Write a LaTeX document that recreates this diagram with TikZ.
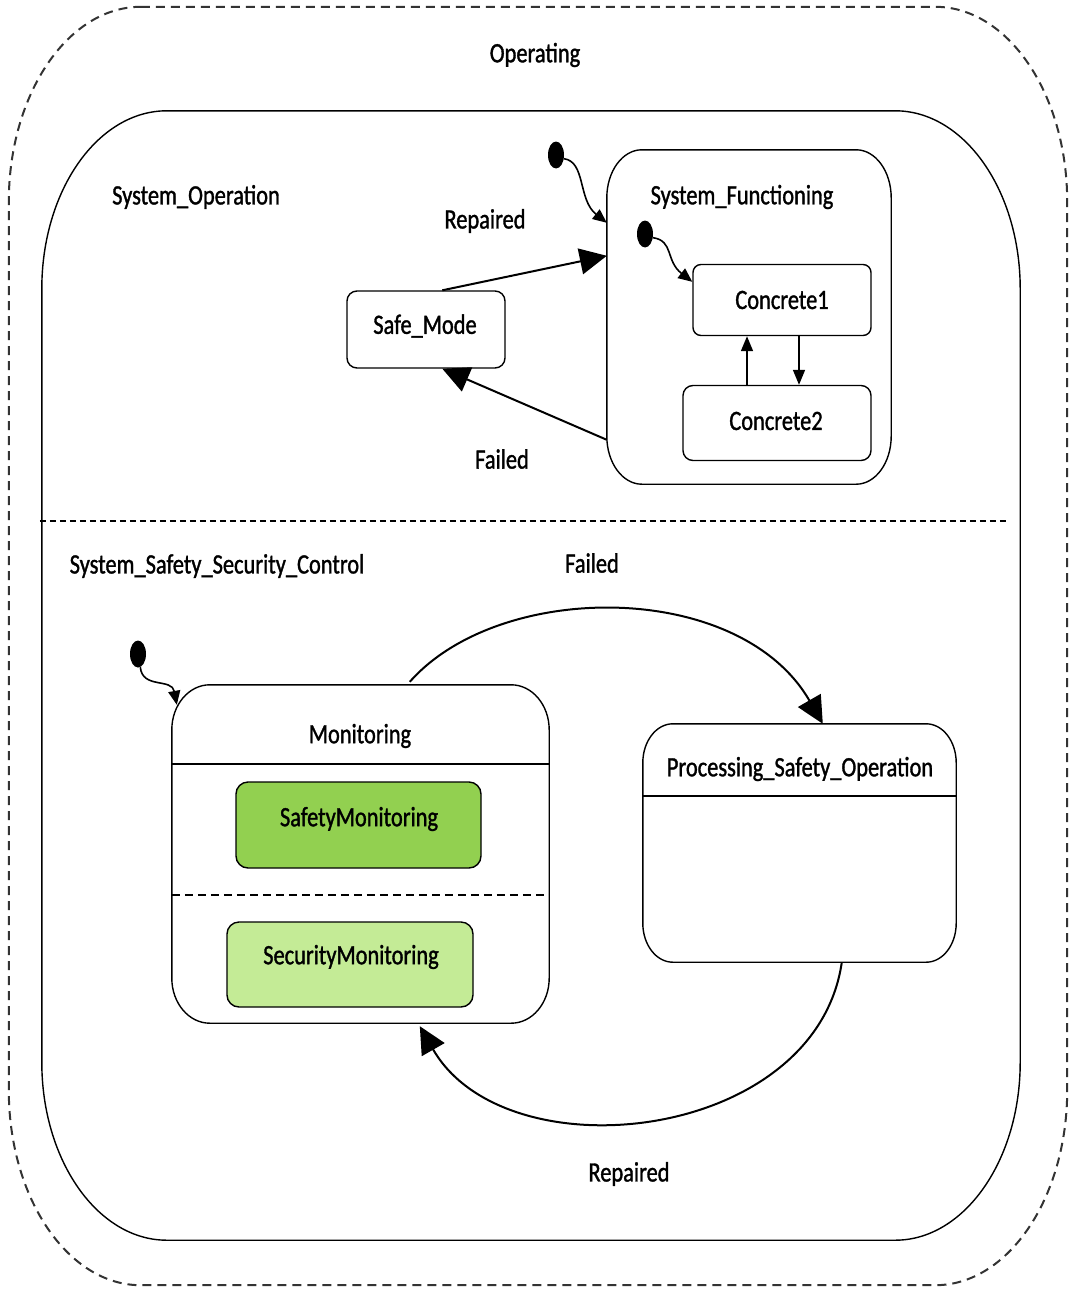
\documentclass[tikz,border=0pt]{standalone}
\usepackage{fontspec}
\setmainfont{Carlito}[FakeStretch=0.8,FakeBold=1.2]
\usetikzlibrary{arrows.meta,shapes.geometric,calc}

% rounded frame with elliptical corners around a node: #2 node, #3 rx, #4 ry
\newcommand\ovalrim[4][]{%
  \draw[#1] ($(#2.north west)+(#3,0)$) -- ($(#2.north east)+(-#3,0)$)
    .. controls ($(#2.north east)+(-0.448*#3,0)$) and ($(#2.north east)+(0,0.448*#4)$) .. ($(#2.north east)+(0,#4)$)
    -- ($(#2.south east)+(0,-#4)$)
    .. controls ($(#2.south east)+(0,-0.448*#4)$) and ($(#2.south east)+(-0.448*#3,0)$) .. ($(#2.south east)+(-#3,0)$)
    -- ($(#2.south west)+(#3,0)$)
    .. controls ($(#2.south west)+(0.448*#3,0)$) and ($(#2.south west)+(0,-0.448*#4)$) .. ($(#2.south west)+(0,-#4)$)
    -- ($(#2.north west)+(0,#4)$)
    .. controls ($(#2.north west)+(0,0.448*#4)$) and ($(#2.north west)+(0.448*#3,0)$) .. ($(#2.north west)+(#3,0)$)
    -- cycle;}

\definecolor{safetygreen}{RGB}{146,208,80}
\definecolor{securitygreen}{RGB}{196,235,150}

\tikzset{
  lbl/.style={font=\fontsize{28}{30}\selectfont, inner sep=0pt},
  region/.style={draw=none, inner sep=0pt},
  simplestate/.style={draw, line width=1.4pt, rounded corners=10pt, inner sep=0pt,
    font=\fontsize{28}{30}\selectfont},
  rim/.style={line width=1.4pt},
  initdot/.style={ellipse, fill=black, draw=none, minimum width=16pt, minimum height=27pt, inner sep=0pt},
  bigarr/.style={line width=2pt, -{Triangle[length=27pt,width=26pt]}},
  smallarr/.style={line width=1.6pt, -{Triangle[length=15pt,width=12pt]}},
  initarr/.style={line width=1.6pt, -{Triangle[length=14pt,width=12pt]}},
}

\begin{document}
\begin{tikzpicture}[x=1pt,y=-1pt]
\useasboundingbox (0,0) rectangle (1071,1290);

% composite regions
\node[region, minimum width=1058pt, minimum height=1278pt] (operating) at (538,646) {};
\ovalrim[line width=2pt, dash pattern=on 9pt off 6pt, draw=black!80]{operating}{132}{195}
\node[region, minimum width=978pt, minimum height=1129pt] (sysctl) at (531,675.5) {};
\ovalrim[rim]{sysctl}{125}{178}
\draw[line width=1.4pt, dash pattern=on 6pt off 4pt] ($(sysctl.west)+(-2,-154.5)$) coordinate (divL) -- ($(sysctl.east)+(-12,-154.5)$) coordinate (divR);

\node[lbl] (tOperating) at (535,55) {Operating};
\node[lbl] (tSysOp) at (196,197) {System\_Operation};
\node[lbl] (tSSSC) at (217,566) {System\_Safety\_Security\_Control};

% upper region
\node[region, minimum width=284pt, minimum height=334pt] (sf) at (749,317) {};
\ovalrim[rim]{sf}{35}{48}
\node[lbl] (tSF) at (742,197) {System\_Functioning};

\node[simplestate, minimum width=158pt, minimum height=77pt] (sm) at (426,329.5) {};
\node[lbl] (tSM) at (425,326) {Safe\_Mode};
\node[simplestate, rounded corners=8pt, minimum width=178pt, minimum height=71pt] (c1) at (782,300) {};
\node[lbl] (tC1) at (782,300) {Concrete1};
\node[simplestate, minimum width=188pt, minimum height=75pt] (c2) at (777,423) {};
\node[lbl] (tC2) at (776,421) {Concrete2};

\node[initdot] (i1) at (556,155) {};
\node[initdot] (i2) at (645,234) {};

\draw[initarr] (i1.-25) .. controls +(22,3) and +(-29,-23) .. ($(sf.north west)+(0,73)$);
\draw[initarr] (i2.-25) .. controls +(21,3) and +(-27,-21) .. ($(c1.north west)+(0,18)$);

\coordinate (upx) at (747,0);
\coordinate (dnx) at (799,0);
\draw[smallarr] (c2.north -| upx) -- (c1.south -| upx);
\draw[smallarr] (c1.south -| dnx) -- (c2.north -| dnx);

\draw[bigarr] ($(sm.north west)+(96,0)$) -- ($(sf.north west)+(0,106)$);
\draw[bigarr] ($(sf.north west)+(0,290)$) -- ($(sm.south west)+(96,0)$);
\node[lbl] (tRep1) at (485,221) {Repaired};
\node[lbl] (tFail1) at (502,459) {Failed};

% lower region
\node[region, minimum width=377pt, minimum height=338pt] (mon) at (360.5,854) {};
\ovalrim[rim]{mon}{38}{45}
\draw[line width=1.4pt] ($(mon.north west)+(0,79)$) -- ($(mon.north east)+(0,79)$);
\draw[line width=1.4pt, dash pattern=on 8pt off 5pt] ($(mon.north west)+(0,210)$) -- ($(mon.north east)+(0,210)$);
\node[lbl] (tMon) at (360,736) {Monitoring};

\node[simplestate, rounded corners=12pt, fill=safetygreen, minimum width=245pt, minimum height=86pt] (safmon) at (358.5,825) {};
\node[lbl] (tSafMon) at (359,819) {SafetyMonitoring};
\node[simplestate, rounded corners=12pt, fill=securitygreen, minimum width=246pt, minimum height=85pt] (secmon) at (350,964.5) {};
\node[lbl] (tSecMon) at (351,957) {SecurityMonitoring};

\node[region, minimum width=313pt, minimum height=238pt] (pso) at (799.5,843) {};
\ovalrim[rim]{pso}{30}{39}
\draw[line width=1.4pt] ($(pso.north west)+(0,72)$) -- ($(pso.north east)+(0,72)$);
\node[lbl] (tPSO) at (800,769) {Processing\_Safety\_Operation};

\node[initdot] (i3) at (138,654) {};
\draw[initarr] (i3.-80) .. controls +(2,22) and +(-5,-27) .. ($(mon.north west)+(5,20)$);

\draw[bigarr] ($(mon.north west)+(238,-3)$) .. controls +(90,-102) and +(-83,-144) .. ($(pso.north west)+(180,0)$);
\draw[bigarr] ($(pso.south west)+(199,0)$) .. controls +(-26,180) and +(86,150) .. ($(mon.south west)+(248,3)$);
\node[lbl] (tFail2) at (592,563) {Failed};
\node[lbl] (tRep2) at (629,1174) {Repaired};
\end{tikzpicture}
\end{document}
